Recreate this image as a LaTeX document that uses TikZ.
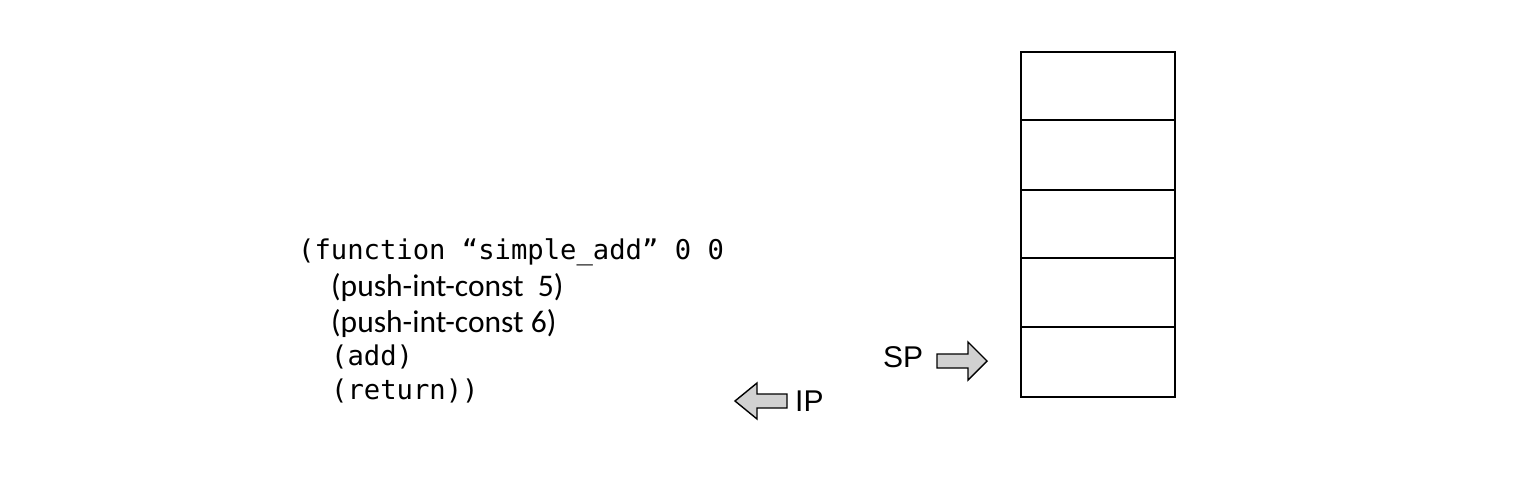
\documentclass[tikz,border=0pt]{standalone}
\usepackage{fontspec}
\setmainfont{Liberation Sans}
\newfontfamily\codemono{DejaVu Sans Mono}
\newfontfamily\codeprop{Carlito}
\begin{document}
\begin{tikzpicture}[x=1pt,y=-1pt,
  codeline/.style={anchor=base west, inner sep=0pt, font=\codemono\fontsize{27.2}{32}\selectfont},
  propline/.style={anchor=base west, inner sep=0pt, font=\codeprop\fontsize{31.5}{36}\selectfont},
  lab/.style={anchor=base west, inner sep=0pt, font=\fontsize{30}{35}\selectfont},
  cell/.style={draw=black, line width=2.2pt},
  bigarrow/.style={draw=black, line width=1.4pt, fill=black!18, line join=miter}]
\useasboundingbox (0,0) rectangle (1520,482);
% code
\node[codeline] (l1) at (298,259) {(function “simple\_add” 0 0};
\node[propline] (l2) at (331,296) {(push-int-const\ \ 5)};
\node[propline] (l3) at (331,332) {(push-int-const 6)};
\node[codeline] (l4) at (331,365) {(add)};
\node[codeline] (l5) at (331,399) {(return))};
% stack
\draw[cell] (1021,52) rectangle (1175,397);
\draw[cell] (1021,120) -- (1175,120);
\draw[cell] (1021,190) -- (1175,190);
\draw[cell] (1021,258) -- (1175,258);
\draw[cell] (1021,327) -- (1175,327);
% SP
\node[lab] (sp) at (883,367) {SP};
\draw[bigarrow] (937,354) -- (968,354) -- (968,342) -- (987,361) -- (968,380) -- (968,368) -- (937,368) -- cycle;
% IP
\node[lab] (ip) at (795,411) {IP};
\draw[bigarrow] (787,394) -- (757,394) -- (757,383) -- (735,401) -- (757,419) -- (757,408) -- (787,408) -- cycle;
\end{tikzpicture}
\end{document}
